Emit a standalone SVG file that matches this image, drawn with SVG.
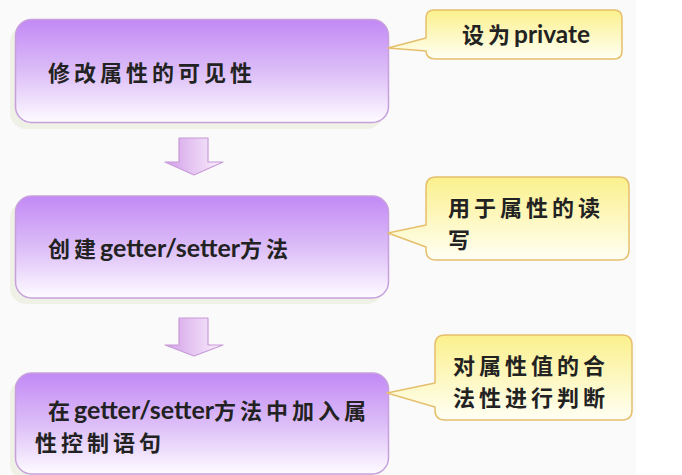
<svg xmlns="http://www.w3.org/2000/svg" width="682" height="475" viewBox="0 0 682 475">
<defs>
<linearGradient id="gBox" x1="0" y1="0" x2="0" y2="1">
<stop offset="0" stop-color="#c289f5"/>
<stop offset="0.5" stop-color="#dcbdf7"/>
<stop offset="1" stop-color="#fdfbff"/>
</linearGradient>
<linearGradient id="gCall" x1="0" y1="0" x2="0" y2="1">
<stop offset="0" stop-color="#fbf08c"/>
<stop offset="1" stop-color="#fffff4"/>
</linearGradient>
<linearGradient id="gArrow" x1="0" y1="0" x2="1" y2="0">
<stop offset="0" stop-color="#d29ee8"/>
<stop offset="1" stop-color="#fbf2fd"/>
</linearGradient>
<style>
.box{fill:url(#gBox);stroke:#c7a0dc;stroke-width:1.5}
.shadow{fill:#eff1e6}
.call{fill:url(#gCall);stroke:#e5bf6c;stroke-width:1.5;stroke-linejoin:round}
.arrow{fill:url(#gArrow);stroke:#c89ad8;stroke-width:1.2;stroke-linejoin:round}
.t{font-family:"Noto Sans CJK SC","Noto Sans",sans-serif;font-size:22px;font-weight:bold;fill:#222;letter-spacing:4px}
.l{font-family:Lato,"Open Sans","Liberation Sans",sans-serif;font-size:24px;font-weight:bold;letter-spacing:0}
</style>
</defs>
<rect x="0" y="0" width="636" height="475" fill="#fafafa"/>
<rect x="636" y="0" width="46" height="475" fill="#ffffff"/>

<g id="connectors">
<path class="arrow" d="M179,138 H208 V162 H223 L194,175 L165,162 H179 Z"/>
<path class="arrow" d="M179,318 H208 V345 H223 L194,356 L165,345 H179 Z"/>
</g>

<g id="node1">
<rect class="shadow" x="10" y="26" width="373" height="103" rx="16"/>
<rect class="box" x="15.5" y="19.5" width="373" height="103" rx="16"/>
<text class="t" x="48" y="81">修改属性的可见性</text>
</g>

<g id="note1">
<path class="call" d="M434,10 H614 Q622,10 622,18 V51 Q622,59 614,59 H436 Q426,59 426,51 L388,48 L426,38 V18 Q426,10 434,10 Z"/>
<text class="t" x="462" y="43">设为<tspan class="l" textLength="76" lengthAdjust="spacingAndGlyphs">private</tspan></text>
</g>

<g id="node2">
<rect class="shadow" x="10" y="202" width="373" height="102" rx="16"/>
<rect class="box" x="15.5" y="196" width="373" height="102" rx="16"/>
<text class="t" x="48" y="257">创建<tspan class="l" textLength="140" lengthAdjust="spacingAndGlyphs">getter/setter</tspan>方法</text>
</g>

<g id="note2">
<path class="call" d="M436,177 H619 Q629,177 629,187 V250 Q629,260 619,260 H436 Q426,260 426,250 V247 L388,233 L426,225 V187 Q426,177 436,177 Z"/>
<text class="t" x="448" y="216">用于属性的读<tspan x="448" y="248">写</tspan></text>
</g>

<g id="node3">
<rect class="shadow" x="10" y="379" width="373" height="101" rx="16"/>
<rect class="box" x="15.5" y="373" width="373" height="101" rx="16"/>
<text class="t" x="48" y="419">在<tspan class="l" textLength="140" lengthAdjust="spacingAndGlyphs">getter/setter</tspan>方法中加入属<tspan x="35" y="451">性控制语句</tspan></text>
</g>

<g id="note3">
<path class="call" d="M445,335 H622 Q632,335 632,345 V410 Q632,420 622,420 H445 Q435,420 435,410 V407 L387,393 L435,383 V345 Q435,335 445,335 Z"/>
<text class="t" x="453" y="374">对属性值的合<tspan x="453" y="406">法性进行判断</tspan></text>
</g>
</svg>
